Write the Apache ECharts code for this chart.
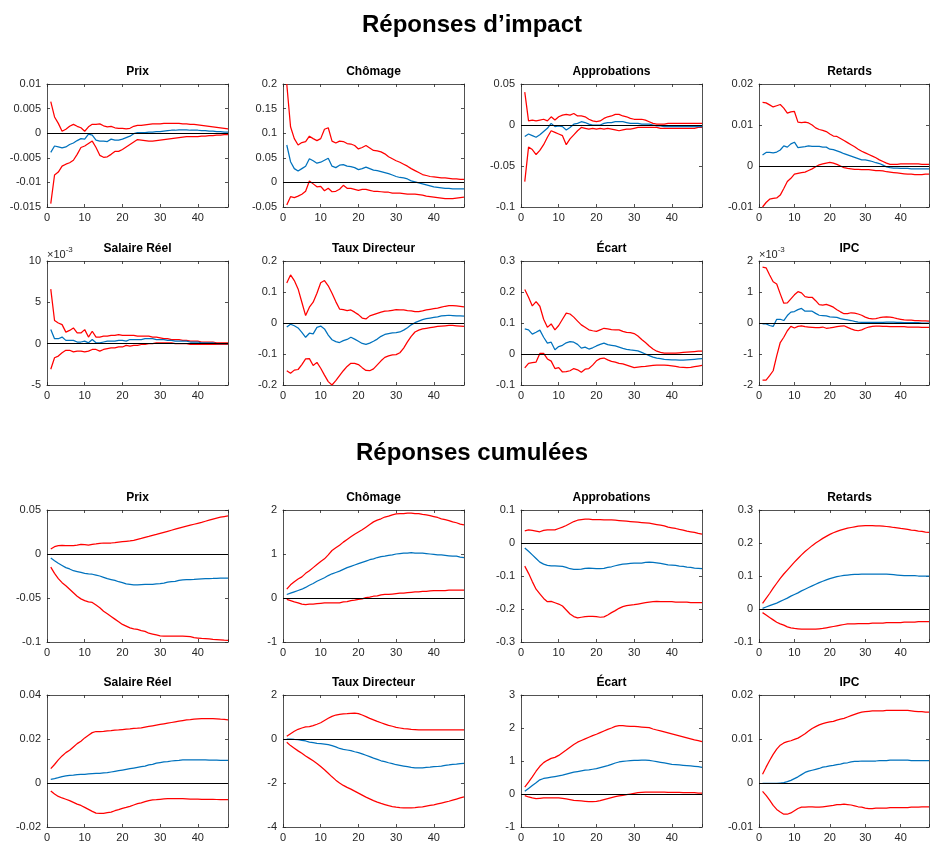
<!DOCTYPE html>
<html lang="fr">
<head>
<meta charset="utf-8">
<title>Réponses d’impact et cumulées</title>
<script src="https://cdn.jsdelivr.net/npm/echarts@6/dist/echarts.min.js"></script>
<style>
  html, body { margin: 0; padding: 0; background: #ffffff; }
  #chart { width: 932px; height: 844px; }
</style>
</head>
<body>
<div id="chart"></div>
<script>
// Horizon (periods after the shock)
const horizon = [1,2,3,4,5,6,7,8,9,10,11,12,13,14,15,16,17,18,19,20,21,22,23,24,25,26,27,28,29,30,31,32,33,34,35,36,37,38,39,40,41,42,43,44,45,46,47,48];

const variableNames = ['Prix', 'Chômage', 'Approbations', 'Retards', 'Salaire Réel', 'Taux Directeur', 'Écart', 'IPC'];
const blockTitles = ['Réponses d’impact', 'Réponses cumulées'];

// Y-axis ticks (min, max, step) for each variable
const impactYMin  = [-0.015, -0.05, -0.1, -0.01, -0.005, -0.2, -0.1, -0.002];
const impactYMax  = [0.01, 0.2, 0.05, 0.02, 0.01, 0.2, 0.3, 0.002];
const impactYStep = [0.005, 0.05, 0.05, 0.01, 0.005, 0.1, 0.1, 0.001];
const impactYExp  = [0, 0, 0, 0, -3, 0, 0, -3];
const cumulYMin   = [-0.1, -1, -0.3, -0.1, -0.02, -4, -1, -0.01];
const cumulYMax   = [0.05, 2, 0.1, 0.3, 0.04, 2, 3, 0.02];
const cumulYStep  = [0.05, 1, 0.1, 0.1, 0.02, 2, 1, 0.01];

// ---- Impact responses: lower band, median, upper band ----
const impPrixLo = [-0.0143,-0.0085,-0.0079,-0.0067,-0.0063,-0.0060,-0.0055,-0.0043,-0.0029,-0.0026,-0.0021,-0.0016,-0.0029,-0.0045,-0.0049,-0.0048,-0.0043,-0.0037,-0.0037,-0.0033,-0.0028,-0.0023,-0.0018,-0.0013,-0.0014,-0.0015,-0.0016,-0.0016,-0.0015,-0.0014,-0.0013,-0.0012,-0.0011,-0.0010,-0.0009,-0.0008,-0.0007,-0.0007,-0.0007,-0.0007,-0.0006,-0.0006,-0.0005,-0.0005,-0.0004,-0.0004,-0.0003,-0.0003];
const impPrixMed = [-0.0039,-0.0026,-0.0028,-0.0030,-0.0028,-0.0023,-0.0020,-0.0015,-0.0011,-0.0012,-0.0002,-0.0004,-0.0014,-0.0016,-0.0016,-0.0017,-0.0012,-0.0014,-0.0014,-0.0012,-0.0009,-0.0006,-0.0001,0.0001,0.0001,0.0001,0.0002,0.0002,0.0003,0.0003,0.0004,0.0005,0.0006,0.0006,0.0007,0.0007,0.0007,0.0006,0.0006,0.0006,0.0005,0.0005,0.0004,0.0004,0.0003,0.0003,0.0002,0.0002];
const impPrixHi = [0.0064,0.0033,0.0020,0.0004,0.0008,0.0014,0.0018,0.0014,0.0011,0.0004,0.0013,0.0018,0.0018,0.0019,0.0015,0.0013,0.0014,0.0011,0.0010,0.0010,0.0009,0.0010,0.0014,0.0016,0.0016,0.0017,0.0018,0.0019,0.0019,0.0019,0.0020,0.0020,0.0020,0.0020,0.0020,0.0019,0.0019,0.0018,0.0018,0.0017,0.0016,0.0015,0.0014,0.0013,0.0012,0.0011,0.0010,0.0009];

const impChomLo = [-0.046,-0.029,-0.031,-0.028,-0.024,-0.018,0.003,-0.003,-0.009,-0.008,-0.017,-0.012,-0.019,-0.018,-0.014,-0.006,-0.012,-0.012,-0.014,-0.016,-0.014,-0.014,-0.016,-0.018,-0.018,-0.019,-0.020,-0.020,-0.022,-0.022,-0.022,-0.023,-0.024,-0.024,-0.024,-0.025,-0.026,-0.028,-0.029,-0.030,-0.031,-0.032,-0.033,-0.033,-0.033,-0.032,-0.031,-0.030];
const impChomMed = [0.076,0.042,0.028,0.023,0.028,0.033,0.048,0.044,0.039,0.041,0.045,0.049,0.033,0.030,0.035,0.036,0.033,0.032,0.030,0.026,0.028,0.031,0.028,0.025,0.024,0.022,0.020,0.018,0.015,0.012,0.010,0.009,0.007,0.003,0.001,-0.001,-0.003,-0.005,-0.007,-0.009,-0.010,-0.011,-0.012,-0.012,-0.013,-0.013,-0.013,-0.013];
const impChomHi = [0.200,0.113,0.089,0.076,0.081,0.083,0.094,0.089,0.085,0.089,0.108,0.111,0.084,0.080,0.084,0.083,0.079,0.078,0.075,0.068,0.071,0.075,0.070,0.065,0.064,0.062,0.058,0.052,0.048,0.044,0.041,0.037,0.033,0.028,0.024,0.020,0.016,0.014,0.012,0.011,0.010,0.009,0.009,0.008,0.007,0.007,0.006,0.006];

const impApprLo = [-0.069,-0.027,-0.030,-0.036,-0.031,-0.024,-0.015,-0.007,-0.009,-0.011,-0.013,-0.024,-0.017,-0.012,-0.007,-0.003,-0.004,-0.005,-0.004,-0.005,-0.004,-0.005,-0.004,-0.005,-0.006,-0.007,-0.006,-0.005,-0.005,-0.004,-0.003,-0.003,-0.003,-0.003,-0.003,-0.003,-0.004,-0.004,-0.004,-0.004,-0.004,-0.004,-0.004,-0.004,-0.004,-0.004,-0.003,-0.003];
const impApprMed = [-0.014,-0.011,-0.013,-0.015,-0.012,-0.008,-0.004,0.002,-0.002,-0.001,-0.002,-0.006,-0.003,0.001,0.002,0.004,0.003,0.001,0.000,0.000,0.000,0.002,0.003,0.003,0.004,0.004,0.004,0.003,0.002,0.002,0.002,0.001,0.001,0.001,0.000,-0.001,-0.001,-0.002,-0.002,-0.002,-0.002,-0.002,-0.002,-0.002,-0.002,-0.002,-0.002,-0.002];
const impApprHi = [0.040,0.005,0.006,0.005,0.006,0.007,0.005,0.010,0.006,0.010,0.012,0.013,0.012,0.014,0.011,0.011,0.010,0.007,0.005,0.004,0.005,0.008,0.010,0.011,0.013,0.013,0.011,0.010,0.008,0.007,0.007,0.007,0.006,0.004,0.002,0.001,0.001,0.001,0.002,0.002,0.002,0.002,0.002,0.002,0.002,0.002,0.002,0.002];

const impRetLo = [-0.0100,-0.0089,-0.0081,-0.0079,-0.0078,-0.0071,-0.0055,-0.0038,-0.0030,-0.0020,-0.0018,-0.0016,-0.0015,-0.0011,-0.0007,-0.0002,0.0003,0.0005,0.0007,0.0009,0.0007,0.0004,0.0000,-0.0004,-0.0006,-0.0007,-0.0008,-0.0008,-0.0009,-0.0009,-0.0009,-0.0010,-0.0011,-0.0011,-0.0012,-0.0014,-0.0015,-0.0016,-0.0017,-0.0018,-0.0019,-0.0020,-0.0020,-0.0021,-0.0021,-0.0021,-0.0020,-0.0020];
const impRetMed = [0.0027,0.0033,0.0033,0.0032,0.0034,0.0039,0.0049,0.0046,0.0054,0.0058,0.0045,0.0046,0.0047,0.0049,0.0048,0.0048,0.0048,0.0046,0.0046,0.0041,0.0040,0.0037,0.0034,0.0030,0.0027,0.0024,0.0021,0.0018,0.0015,0.0015,0.0013,0.0011,0.0008,0.0006,0.0002,-0.0002,-0.0004,-0.0005,-0.0005,-0.0006,-0.0006,-0.0006,-0.0007,-0.0007,-0.0007,-0.0007,-0.0007,-0.0007];
const impRetHi = [0.0155,0.0154,0.0149,0.0144,0.0147,0.0150,0.0141,0.0129,0.0132,0.0133,0.0107,0.0106,0.0107,0.0105,0.0100,0.0093,0.0089,0.0087,0.0084,0.0078,0.0073,0.0072,0.0067,0.0062,0.0057,0.0052,0.0047,0.0041,0.0036,0.0032,0.0028,0.0024,0.0020,0.0015,0.0011,0.0007,0.0004,0.0004,0.0004,0.0005,0.0005,0.0005,0.0005,0.0005,0.0005,0.0004,0.0004,0.0004];

const impSalLo = [-0.0031,-0.0017,-0.0015,-0.0011,-0.0008,-0.0008,-0.0010,-0.0009,-0.0009,-0.0010,-0.0009,-0.0007,-0.0007,-0.0009,-0.0007,-0.0006,-0.0005,-0.0005,-0.0004,-0.0004,-0.0002,-0.0003,-0.0002,-0.0002,-0.0001,-0.0001,0.0000,0.0000,0.0001,0.0001,0.0001,0.0001,0.0001,0.0000,0.0000,0.0000,0.0000,-0.0001,-0.0001,-0.0001,-0.0001,-0.0001,-0.0001,-0.0001,-0.0001,-0.0001,-0.0001,-0.0001];
const impSalMed = [0.0017,0.0006,0.0006,0.0008,0.0004,0.0004,0.0004,0.0002,0.0002,0.0003,0.0001,0.0005,0.0001,0.0001,0.0002,0.0003,0.0003,0.0003,0.0004,0.0004,0.0003,0.0005,0.0005,0.0005,0.0005,0.0006,0.0006,0.0006,0.0005,0.0005,0.0005,0.0004,0.0004,0.0003,0.0003,0.0003,0.0003,0.0002,0.0002,0.0002,0.0001,0.0001,0.0001,0.0001,0.0000,0.0000,0.0000,0.0000];
const impSalHi = [0.0066,0.0028,0.0025,0.0023,0.0014,0.0016,0.0019,0.0013,0.0013,0.0017,0.0008,0.0015,0.0008,0.0008,0.0009,0.0009,0.0010,0.0010,0.0011,0.0010,0.0010,0.0010,0.0010,0.0009,0.0009,0.0009,0.0009,0.0008,0.0008,0.0007,0.0006,0.0006,0.0005,0.0005,0.0005,0.0004,0.0004,0.0003,0.0003,0.0003,0.0002,0.0002,0.0002,0.0002,0.0001,0.0001,0.0001,0.0001];

const impTauxLo = [-0.154,-0.162,-0.152,-0.150,-0.134,-0.116,-0.115,-0.137,-0.127,-0.146,-0.168,-0.189,-0.200,-0.186,-0.170,-0.154,-0.140,-0.130,-0.130,-0.134,-0.144,-0.153,-0.154,-0.148,-0.135,-0.122,-0.111,-0.106,-0.103,-0.102,-0.096,-0.081,-0.061,-0.043,-0.029,-0.023,-0.019,-0.017,-0.015,-0.013,-0.011,-0.010,-0.009,-0.008,-0.008,-0.009,-0.010,-0.011];
const impTauxMed = [-0.013,-0.004,-0.009,-0.016,-0.030,-0.046,-0.033,-0.035,-0.014,-0.010,-0.019,-0.039,-0.054,-0.060,-0.063,-0.057,-0.053,-0.046,-0.052,-0.059,-0.066,-0.069,-0.065,-0.059,-0.052,-0.043,-0.037,-0.034,-0.032,-0.031,-0.029,-0.023,-0.015,-0.006,0.001,0.006,0.011,0.014,0.016,0.018,0.020,0.023,0.024,0.025,0.024,0.023,0.023,0.022];
const impTauxHi = [0.129,0.155,0.137,0.110,0.067,0.024,0.051,0.067,0.096,0.130,0.137,0.120,0.096,0.069,0.045,0.043,0.040,0.042,0.035,0.027,0.016,0.013,0.023,0.027,0.031,0.035,0.038,0.039,0.041,0.043,0.042,0.042,0.040,0.039,0.037,0.037,0.039,0.042,0.044,0.046,0.048,0.051,0.054,0.056,0.056,0.055,0.054,0.052];

const impEcartLo = [-0.045,-0.030,-0.028,-0.026,0.002,0.002,-0.016,-0.023,-0.047,-0.044,-0.058,-0.057,-0.054,-0.047,-0.051,-0.059,-0.049,-0.047,-0.036,-0.022,-0.015,-0.013,-0.019,-0.024,-0.026,-0.030,-0.032,-0.036,-0.040,-0.044,-0.042,-0.041,-0.040,-0.038,-0.037,-0.036,-0.036,-0.036,-0.037,-0.038,-0.040,-0.042,-0.043,-0.044,-0.043,-0.041,-0.039,-0.037];
const impEcartMed = [0.081,0.078,0.064,0.070,0.077,0.054,0.035,0.038,0.014,0.024,0.028,0.036,0.040,0.038,0.031,0.019,0.022,0.016,0.020,0.026,0.031,0.035,0.030,0.028,0.026,0.022,0.018,0.015,0.013,0.012,0.010,0.005,0.000,-0.005,-0.010,-0.013,-0.015,-0.017,-0.018,-0.019,-0.019,-0.020,-0.020,-0.019,-0.018,-0.017,-0.016,-0.015];
const impEcartHi = [0.208,0.183,0.155,0.169,0.154,0.112,0.086,0.097,0.078,0.092,0.112,0.132,0.129,0.119,0.106,0.094,0.086,0.078,0.075,0.073,0.078,0.083,0.081,0.079,0.078,0.078,0.073,0.070,0.069,0.066,0.058,0.047,0.037,0.026,0.016,0.009,0.005,0.003,0.003,0.003,0.003,0.004,0.005,0.006,0.007,0.008,0.009,0.009];

const impIpcLo = [-0.00184,-0.00184,-0.00170,-0.00154,-0.00106,-0.00063,-0.00046,-0.00025,-0.00011,-0.00016,-0.00011,-0.00009,-0.00012,-0.00013,-0.00014,-0.00015,-0.00015,-0.00013,-0.00017,-0.00016,-0.00014,-0.00012,-0.00010,-0.00009,-0.00014,-0.00019,-0.00023,-0.00025,-0.00022,-0.00017,-0.00013,-0.00011,-0.00010,-0.00010,-0.00011,-0.00011,-0.00012,-0.00012,-0.00012,-0.00012,-0.00012,-0.00013,-0.00013,-0.00013,-0.00013,-0.00014,-0.00014,-0.00014];
const impIpcMed = [-0.00003,-0.00003,-0.00008,-0.00011,0.00012,0.00012,0.00008,0.00024,0.00035,0.00037,0.00043,0.00047,0.00038,0.00038,0.00038,0.00031,0.00025,0.00024,0.00023,0.00020,0.00019,0.00018,0.00014,0.00012,0.00010,0.00008,0.00005,0.00003,0.00002,0.00002,0.00002,0.00002,0.00002,0.00002,0.00002,0.00003,0.00003,0.00003,0.00002,0.00002,0.00001,0.00001,0.00001,0.00001,0.00001,0.00000,0.00000,0.00000];
const impIpcHi = [0.00180,0.00178,0.00155,0.00133,0.00126,0.00094,0.00064,0.00065,0.00078,0.00091,0.00101,0.00097,0.00085,0.00083,0.00083,0.00072,0.00059,0.00058,0.00060,0.00056,0.00051,0.00043,0.00036,0.00030,0.00030,0.00033,0.00032,0.00029,0.00025,0.00019,0.00015,0.00013,0.00014,0.00017,0.00019,0.00020,0.00019,0.00017,0.00014,0.00012,0.00010,0.00009,0.00009,0.00008,0.00008,0.00007,0.00007,0.00006];

// ---- Cumulative responses: lower band, median, upper band ----
const cumPrixLo = [-0.0150,-0.0220,-0.0280,-0.0326,-0.0360,-0.0400,-0.0440,-0.0480,-0.0510,-0.0530,-0.0545,-0.0550,-0.0580,-0.0610,-0.0650,-0.0680,-0.0710,-0.0740,-0.0770,-0.0800,-0.0820,-0.0840,-0.0850,-0.0856,-0.0870,-0.0880,-0.0900,-0.0910,-0.0920,-0.0930,-0.0932,-0.0933,-0.0933,-0.0933,-0.0933,-0.0933,-0.0935,-0.0940,-0.0950,-0.0955,-0.0960,-0.0962,-0.0965,-0.0970,-0.0972,-0.0975,-0.0980,-0.0982];
const cumPrixMed = [-0.0045,-0.0076,-0.0106,-0.0130,-0.0155,-0.0170,-0.0190,-0.0200,-0.0210,-0.0220,-0.0227,-0.0230,-0.0240,-0.0250,-0.0265,-0.0280,-0.0290,-0.0300,-0.0315,-0.0326,-0.0340,-0.0345,-0.0350,-0.0350,-0.0348,-0.0346,-0.0345,-0.0344,-0.0340,-0.0336,-0.0330,-0.0320,-0.0315,-0.0310,-0.0300,-0.0295,-0.0292,-0.0290,-0.0288,-0.0285,-0.0282,-0.0280,-0.0279,-0.0278,-0.0276,-0.0275,-0.0274,-0.0273];
const cumPrixHi = [0.0057,0.0083,0.0095,0.0098,0.0095,0.0095,0.0095,0.0100,0.0110,0.0106,0.0100,0.0110,0.0114,0.0120,0.0125,0.0125,0.0125,0.0130,0.0136,0.0140,0.0144,0.0148,0.0155,0.0167,0.0178,0.0190,0.0200,0.0211,0.0222,0.0234,0.0246,0.0258,0.0270,0.0282,0.0294,0.0305,0.0316,0.0327,0.0338,0.0349,0.0360,0.0372,0.0384,0.0396,0.0408,0.0418,0.0426,0.0434];

const cumChomLo = [-0.03,-0.06,-0.09,-0.11,-0.14,-0.15,-0.14,-0.14,-0.13,-0.12,-0.11,-0.11,-0.11,-0.11,-0.11,-0.09,-0.08,-0.06,-0.05,-0.03,-0.02,0.01,0.02,0.04,0.05,0.07,0.08,0.08,0.09,0.10,0.11,0.11,0.12,0.13,0.14,0.14,0.15,0.15,0.16,0.17,0.17,0.17,0.17,0.18,0.18,0.18,0.18,0.18];
const cumChomMed = [0.08,0.11,0.14,0.17,0.20,0.24,0.29,0.33,0.38,0.42,0.46,0.51,0.55,0.58,0.61,0.65,0.69,0.72,0.75,0.78,0.81,0.84,0.87,0.89,0.92,0.94,0.95,0.97,0.98,1.00,1.01,1.02,1.02,1.03,1.02,1.02,1.02,1.01,1.00,0.99,0.98,0.98,0.97,0.96,0.95,0.95,0.93,0.92];
const cumChomHi = [0.20,0.30,0.37,0.43,0.48,0.56,0.62,0.69,0.76,0.83,0.89,0.98,1.08,1.14,1.20,1.27,1.33,1.39,1.45,1.50,1.55,1.61,1.67,1.73,1.77,1.80,1.84,1.86,1.89,1.91,1.92,1.92,1.93,1.93,1.92,1.92,1.90,1.89,1.87,1.85,1.83,1.80,1.78,1.76,1.73,1.71,1.68,1.66];

const cumApprLo = [-0.070,-0.092,-0.117,-0.140,-0.154,-0.168,-0.178,-0.177,-0.181,-0.185,-0.191,-0.203,-0.215,-0.223,-0.227,-0.225,-0.223,-0.222,-0.222,-0.223,-0.225,-0.224,-0.218,-0.211,-0.205,-0.198,-0.193,-0.190,-0.188,-0.187,-0.185,-0.183,-0.181,-0.179,-0.178,-0.177,-0.178,-0.178,-0.178,-0.178,-0.179,-0.179,-0.179,-0.179,-0.181,-0.181,-0.181,-0.181];
const cumApprMed = [-0.015,-0.025,-0.036,-0.047,-0.058,-0.064,-0.068,-0.069,-0.069,-0.070,-0.071,-0.074,-0.078,-0.080,-0.080,-0.079,-0.077,-0.076,-0.077,-0.078,-0.078,-0.077,-0.074,-0.072,-0.069,-0.066,-0.064,-0.063,-0.062,-0.061,-0.061,-0.061,-0.059,-0.058,-0.059,-0.060,-0.062,-0.064,-0.066,-0.067,-0.068,-0.070,-0.071,-0.073,-0.074,-0.076,-0.077,-0.078];
const cumApprHi = [0.037,0.040,0.038,0.036,0.034,0.038,0.040,0.040,0.040,0.044,0.048,0.053,0.059,0.065,0.069,0.071,0.072,0.072,0.071,0.071,0.071,0.070,0.070,0.070,0.069,0.068,0.067,0.066,0.065,0.064,0.063,0.062,0.061,0.060,0.058,0.056,0.054,0.052,0.048,0.046,0.044,0.041,0.039,0.036,0.034,0.032,0.029,0.027];

const cumRetLo = [-0.011,-0.018,-0.026,-0.033,-0.040,-0.045,-0.049,-0.054,-0.057,-0.059,-0.060,-0.061,-0.061,-0.061,-0.061,-0.061,-0.060,-0.059,-0.057,-0.055,-0.053,-0.051,-0.049,-0.047,-0.045,-0.045,-0.045,-0.044,-0.044,-0.044,-0.044,-0.043,-0.043,-0.043,-0.043,-0.041,-0.041,-0.041,-0.041,-0.041,-0.040,-0.040,-0.040,-0.040,-0.038,-0.038,-0.038,-0.038];
const cumRetMed = [0.002,0.006,0.010,0.014,0.018,0.023,0.028,0.033,0.039,0.044,0.049,0.055,0.060,0.065,0.070,0.075,0.080,0.084,0.088,0.092,0.095,0.098,0.100,0.102,0.103,0.104,0.105,0.105,0.106,0.106,0.106,0.106,0.106,0.106,0.106,0.106,0.105,0.104,0.103,0.102,0.101,0.101,0.101,0.101,0.100,0.100,0.100,0.100];
const cumRetHi = [0.017,0.032,0.047,0.063,0.078,0.093,0.106,0.118,0.130,0.142,0.153,0.164,0.174,0.183,0.192,0.200,0.207,0.214,0.220,0.226,0.231,0.235,0.239,0.242,0.245,0.247,0.249,0.251,0.252,0.253,0.253,0.253,0.252,0.252,0.251,0.250,0.249,0.247,0.246,0.244,0.243,0.241,0.239,0.238,0.236,0.235,0.233,0.232];

const cumSalLo = [-0.0036,-0.0050,-0.0061,-0.0068,-0.0074,-0.0080,-0.0088,-0.0096,-0.0102,-0.0111,-0.0120,-0.0129,-0.0137,-0.0138,-0.0138,-0.0135,-0.0132,-0.0126,-0.0121,-0.0115,-0.0111,-0.0106,-0.0100,-0.0094,-0.0090,-0.0085,-0.0080,-0.0077,-0.0076,-0.0074,-0.0072,-0.0071,-0.0071,-0.0071,-0.0071,-0.0071,-0.0072,-0.0073,-0.0073,-0.0073,-0.0074,-0.0074,-0.0074,-0.0074,-0.0075,-0.0076,-0.0076,-0.0076];
const cumSalMed = [0.0017,0.0020,0.0024,0.0029,0.0032,0.0035,0.0036,0.0038,0.0039,0.0039,0.0041,0.0043,0.0044,0.0044,0.0046,0.0047,0.0050,0.0053,0.0056,0.0059,0.0062,0.0065,0.0068,0.0071,0.0074,0.0077,0.0082,0.0085,0.0090,0.0093,0.0096,0.0097,0.0100,0.0102,0.0103,0.0105,0.0105,0.0105,0.0105,0.0105,0.0105,0.0105,0.0104,0.0104,0.0104,0.0103,0.0103,0.0103];
const cumSalHi = [0.0065,0.0084,0.0105,0.0123,0.0138,0.0149,0.0164,0.0179,0.0190,0.0205,0.0217,0.0229,0.0234,0.0234,0.0235,0.0237,0.0238,0.0240,0.0241,0.0243,0.0245,0.0246,0.0248,0.0249,0.0251,0.0254,0.0257,0.0260,0.0263,0.0266,0.0269,0.0272,0.0275,0.0278,0.0281,0.0284,0.0287,0.0288,0.0290,0.0292,0.0293,0.0293,0.0293,0.0293,0.0292,0.0290,0.0289,0.0287];

const cumTauxLo = [-0.15,-0.30,-0.42,-0.54,-0.65,-0.77,-0.88,-0.99,-1.11,-1.25,-1.40,-1.56,-1.72,-1.87,-2.00,-2.11,-2.20,-2.28,-2.37,-2.46,-2.55,-2.64,-2.72,-2.80,-2.87,-2.93,-2.98,-3.03,-3.07,-3.10,-3.12,-3.13,-3.13,-3.13,-3.12,-3.10,-3.08,-3.05,-3.02,-2.99,-2.95,-2.91,-2.87,-2.83,-2.78,-2.73,-2.68,-2.63];
const cumTauxMed = [0.00,0.00,-0.02,-0.03,-0.06,-0.09,-0.14,-0.17,-0.20,-0.21,-0.23,-0.26,-0.30,-0.36,-0.43,-0.47,-0.50,-0.53,-0.58,-0.62,-0.68,-0.74,-0.80,-0.87,-0.93,-0.99,-1.03,-1.08,-1.12,-1.17,-1.20,-1.23,-1.26,-1.29,-1.31,-1.31,-1.31,-1.29,-1.28,-1.26,-1.25,-1.23,-1.20,-1.18,-1.15,-1.14,-1.12,-1.11];
const cumTauxHi = [0.12,0.24,0.35,0.44,0.50,0.55,0.56,0.61,0.67,0.74,0.84,0.94,1.03,1.09,1.12,1.14,1.15,1.17,1.18,1.15,1.09,1.02,0.94,0.87,0.80,0.74,0.68,0.62,0.58,0.53,0.50,0.47,0.46,0.44,0.43,0.42,0.42,0.42,0.42,0.42,0.42,0.41,0.41,0.41,0.41,0.41,0.41,0.41];

const cumEcartLo = [-0.05,-0.09,-0.12,-0.14,-0.13,-0.12,-0.12,-0.12,-0.12,-0.12,-0.13,-0.15,-0.17,-0.19,-0.20,-0.21,-0.22,-0.23,-0.23,-0.22,-0.20,-0.17,-0.14,-0.11,-0.08,-0.06,-0.04,-0.02,0.00,0.02,0.04,0.05,0.06,0.06,0.06,0.06,0.06,0.06,0.05,0.05,0.05,0.05,0.04,0.04,0.04,0.04,0.03,0.03];
const cumEcartMed = [0.08,0.17,0.26,0.34,0.43,0.47,0.49,0.51,0.53,0.55,0.57,0.60,0.63,0.66,0.68,0.70,0.72,0.73,0.75,0.77,0.80,0.83,0.86,0.90,0.94,0.97,0.99,1.00,1.01,1.02,1.02,1.03,1.03,1.02,1.00,0.98,0.96,0.94,0.92,0.90,0.89,0.88,0.87,0.86,0.85,0.84,0.83,0.81];
const cumEcartHi = [0.21,0.36,0.52,0.69,0.84,0.95,1.02,1.08,1.11,1.17,1.25,1.33,1.42,1.50,1.57,1.62,1.67,1.72,1.77,1.81,1.86,1.91,1.96,2.00,2.05,2.07,2.07,2.06,2.05,2.05,2.04,2.03,2.02,2.01,1.97,1.94,1.91,1.88,1.85,1.82,1.79,1.76,1.73,1.70,1.67,1.64,1.62,1.59];

const cumIpcLo = [-0.0019,-0.0028,-0.0039,-0.0051,-0.0060,-0.0066,-0.0071,-0.0071,-0.0068,-0.0063,-0.0058,-0.0055,-0.0055,-0.0054,-0.0054,-0.0055,-0.0055,-0.0054,-0.0053,-0.0052,-0.0051,-0.0049,-0.0049,-0.0048,-0.0049,-0.0050,-0.0052,-0.0054,-0.0055,-0.0057,-0.0058,-0.0058,-0.0057,-0.0057,-0.0057,-0.0057,-0.0056,-0.0056,-0.0056,-0.0056,-0.0056,-0.0056,-0.0055,-0.0055,-0.0055,-0.0054,-0.0054,-0.0054];
const cumIpcMed = [-0.0001,-0.0001,-0.0001,-0.0001,-0.0001,0.0000,0.0001,0.0003,0.0006,0.0010,0.0014,0.0019,0.0024,0.0027,0.0029,0.0031,0.0033,0.0036,0.0037,0.0039,0.0040,0.0042,0.0043,0.0045,0.0046,0.0048,0.0049,0.0049,0.0050,0.0050,0.0050,0.0050,0.0050,0.0051,0.0051,0.0051,0.0052,0.0052,0.0052,0.0052,0.0052,0.0052,0.0051,0.0051,0.0051,0.0051,0.0051,0.0051];
const cumIpcHi = [0.0020,0.0036,0.0051,0.0065,0.0077,0.0086,0.0091,0.0094,0.0096,0.0099,0.0102,0.0107,0.0112,0.0118,0.0124,0.0128,0.0132,0.0135,0.0137,0.0139,0.0140,0.0143,0.0145,0.0147,0.0150,0.0153,0.0156,0.0159,0.0161,0.0162,0.0163,0.0164,0.0164,0.0164,0.0164,0.0165,0.0165,0.0165,0.0165,0.0165,0.0165,0.0165,0.0164,0.0163,0.0162,0.0162,0.0161,0.0161];

// Series grouped per panel: [lower, median, upper]
const impactSets = [
  [impPrixLo, impPrixMed, impPrixHi], [impChomLo, impChomMed, impChomHi],
  [impApprLo, impApprMed, impApprHi], [impRetLo, impRetMed, impRetHi],
  [impSalLo, impSalMed, impSalHi], [impTauxLo, impTauxMed, impTauxHi],
  [impEcartLo, impEcartMed, impEcartHi], [impIpcLo, impIpcMed, impIpcHi]
];
const cumulSets = [
  [cumPrixLo, cumPrixMed, cumPrixHi], [cumChomLo, cumChomMed, cumChomHi],
  [cumApprLo, cumApprMed, cumApprHi], [cumRetLo, cumRetMed, cumRetHi],
  [cumSalLo, cumSalMed, cumSalHi], [cumTauxLo, cumTauxMed, cumTauxHi],
  [cumEcartLo, cumEcartMed, cumEcartHi], [cumIpcLo, cumIpcMed, cumIpcHi]
];

// ---- Layout ----
const FONT = '"Liberation Sans", Arial, Helvetica, sans-serif';
const AXIS_COLOR = '#262626';
const BAND_COLOR = '#ff0000';
const MEDIAN_COLOR = '#0072bd';
const LINE_W = 1.25;
const colLeft = [47, 283, 521, 759];
const plotW = 181;
const rowTop = [84, 261, 510, 695];
const rowH = [123, 124, 132, 132];
const blockTitleTop = [13, 441];

function fmtTick(v, exp) {
  if (exp) return String(Math.round(v / Math.pow(10, exp)));
  return String(parseFloat(v.toPrecision(8)));
}

const grids = [], xAxes = [], yAxes = [], series = [], titles = [];

blockTitles.forEach((t, b) => {
  titles.push({
    text: t, left: 472, top: blockTitleTop[b], textAlign: 'center', padding: 0,
    textStyle: { fontFamily: FONT, fontSize: 24, fontWeight: 'bold', color: '#000' }
  });
});

for (let b = 0; b < 2; b++) {
  for (let p = 0; p < 8; p++) {
    const row = b * 2 + Math.floor(p / 4);
    const col = p % 4;
    const g = grids.length;
    const left = colLeft[col], top = rowTop[row], h = rowH[row];
    const yMin = b ? cumulYMin[p] : impactYMin[p];
    const yMax = b ? cumulYMax[p] : impactYMax[p];
    const yStep = b ? cumulYStep[p] : impactYStep[p];
    const exp = b ? 0 : impactYExp[p];
    const sets = b ? cumulSets[p] : impactSets[p];

    grids.push({ left: left, top: top, width: plotW, height: h });

    titles.push({
      text: variableNames[p], left: left + plotW / 2, top: top - 18, textAlign: 'center', padding: 0,
      textStyle: { fontFamily: FONT, fontSize: 12, fontWeight: 'bold', color: '#000' }
    });

    const axisLine = { show: true, onZero: false, lineStyle: { color: AXIS_COLOR, width: 0.8 } };
    const axisTick = { show: true, inside: true, length: 3, lineStyle: { color: AXIS_COLOR, width: 0.8 } };

    // bottom and top x axes (box)
    xAxes.push({
      gridIndex: g, type: 'value', position: 'bottom', min: 0, max: 48, interval: 10,
      axisLine, axisTick, splitLine: { show: false },
      axisLabel: {
        color: AXIS_COLOR, fontFamily: FONT, fontSize: 11, margin: 5,
        formatter: v => (v % 10 === 0 ? String(v) : '')
      }
    });
    xAxes.push({
      gridIndex: g, type: 'value', position: 'top', min: 0, max: 48, interval: 10,
      axisLine, axisTick, splitLine: { show: false }, axisLabel: { show: false }
    });

    // left and right y axes (box)
    const yLeft = {
      gridIndex: g, type: 'value', position: 'left', min: yMin, max: yMax, interval: yStep,
      axisLine, axisTick, splitLine: { show: false },
      axisLabel: {
        color: AXIS_COLOR, fontFamily: FONT, fontSize: 11, margin: 6,
        formatter: v => fmtTick(v, exp)
      }
    };
    if (exp) {
      yLeft.name = '{a|×10}{b|' + exp + '}';
      yLeft.nameLocation = 'end';
      yLeft.nameGap = 1;
      yLeft.nameTextStyle = {
        align: 'left', verticalAlign: 'bottom', color: AXIS_COLOR, fontFamily: FONT,
        rich: {
          a: { fontFamily: FONT, fontSize: 11, color: AXIS_COLOR, verticalAlign: 'bottom' },
          b: { fontFamily: FONT, fontSize: 8, color: AXIS_COLOR, verticalAlign: 'top', padding: [0, 0, 6, 0] }
        }
      };
    }
    yAxes.push(yLeft);
    yAxes.push({
      gridIndex: g, type: 'value', position: 'right', min: yMin, max: yMax, interval: yStep,
      axisLine, axisTick, splitLine: { show: false }, axisLabel: { show: false }
    });

    const xi = 2 * g, yi = 2 * g;
    const toPairs = arr => horizon.map((hz, i) => [hz, arr[i]]);
    const lineBase = {
      type: 'line', xAxisIndex: xi, yAxisIndex: yi, showSymbol: false, symbol: 'none',
      silent: true, animation: false
    };
    series.push(Object.assign({}, lineBase, {
      name: 'bande inf.', data: toPairs(sets[0]), lineStyle: { color: BAND_COLOR, width: LINE_W }, z: 3,
      markLine: {
        silent: true, symbol: 'none', label: { show: false },
        lineStyle: { color: '#000', width: 1, type: 'solid' },
        data: [{ yAxis: 0 }]
      }
    }));
    series.push(Object.assign({}, lineBase, {
      name: 'bande sup.', data: toPairs(sets[2]), lineStyle: { color: BAND_COLOR, width: LINE_W }, z: 3
    }));
    series.push(Object.assign({}, lineBase, {
      name: 'médiane', data: toPairs(sets[1]), lineStyle: { color: MEDIAN_COLOR, width: LINE_W }, z: 4
    }));
  }
}

const chart = echarts.init(document.getElementById('chart'), null, { renderer: 'canvas' });
chart.setOption({
  backgroundColor: '#ffffff',
  animation: false,
  title: titles,
  grid: grids,
  xAxis: xAxes,
  yAxis: yAxes,
  series: series
});
</script>
</body>
</html>
